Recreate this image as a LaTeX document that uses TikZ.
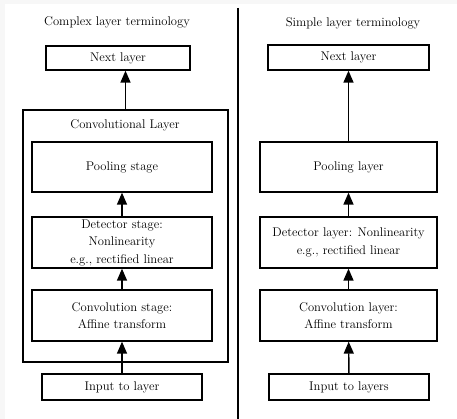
\documentclass[tikz,border=0pt]{standalone}
\usetikzlibrary{arrows.meta}
\begin{document}
\begin{tikzpicture}[x=1pt,y=-1pt,
  txt/.style={font=\fontsize{12.6}{17.5}\selectfont, align=center, inner sep=0pt},
  box/.style={draw, line width=1.3pt, rectangle, inner sep=0pt,
    font=\fontsize{12.6}{17.5}\selectfont, align=center},
  flow/.style={line width=1.4pt, -{Triangle[width=10pt,length=12pt]}}]
  % page frame with a faint grey edge at left and top
  \fill[black!3] (0,0) rectangle (457,419);
  \fill[white] (5,4) rectangle (457,419);
  \useasboundingbox (0,0) rectangle (457,419);

  % divider between the two panels
  \draw[line width=1.2pt] (238,8) coordinate (dtop) -- (238,419) coordinate (dbot);

  % ---- complex layer terminology ----
  \node[txt] (titleL) at (117,22) {Complex layer terminology};
  \node[box, minimum width=144, minimum height=24] (nextL) at (118,58) {Next layer};
  \node[box, minimum width=205, minimum height=252] (outer) at (125.5,236) {};
  \node[txt] (convlayer) at (125,125) {Convolutional Layer};
  \node[box, minimum width=180, minimum height=50] (poolS) at (122,167) {Pooling stage};
  \node[box, minimum width=180, minimum height=51] (detS) at (122,242.5)
    {Detector stage:\\Nonlinearity\\e.g., rectified linear};
  \node[box, minimum width=180, minimum height=51] (convS) at (122,315.5)
    {Convolution stage:\\Affine transform};
  \node[box, minimum width=160, minimum height=26] (inL) at (122,387) {Input to layer};

  \draw[flow] (inL) -- (convS);
  \draw[flow] (convS) -- (detS);
  \draw[flow] (detS) -- (poolS);
  \draw[flow] (outer.north) -- (outer.north |- nextL.south);

  % ---- simple layer terminology ----
  \node[txt] (titleR) at (353,23) {Simple layer terminology};
  \node[box, minimum width=161, minimum height=25] (nextR) at (348.5,57.5) {Next layer};
  \node[box, minimum width=177, minimum height=50] (poolR) at (348.5,167) {Pooling layer};
  \node[box, minimum width=177, minimum height=51] (detR) at (348.5,242.5)
    {Detector layer: Nonlinearity\\e.g., rectified linear};
  \node[box, minimum width=177, minimum height=51] (convR) at (348.5,315.5)
    {Convolution layer:\\Affine transform};
  \node[box, minimum width=160, minimum height=26] (inR) at (349,387) {Input to layers};

  \draw[flow] (inR) -- (convR);
  \draw[flow] (convR) -- (detR);
  \draw[flow] (detR) -- (poolR);
  \draw[flow] (poolR) -- (nextR);
\end{tikzpicture}
\end{document}
